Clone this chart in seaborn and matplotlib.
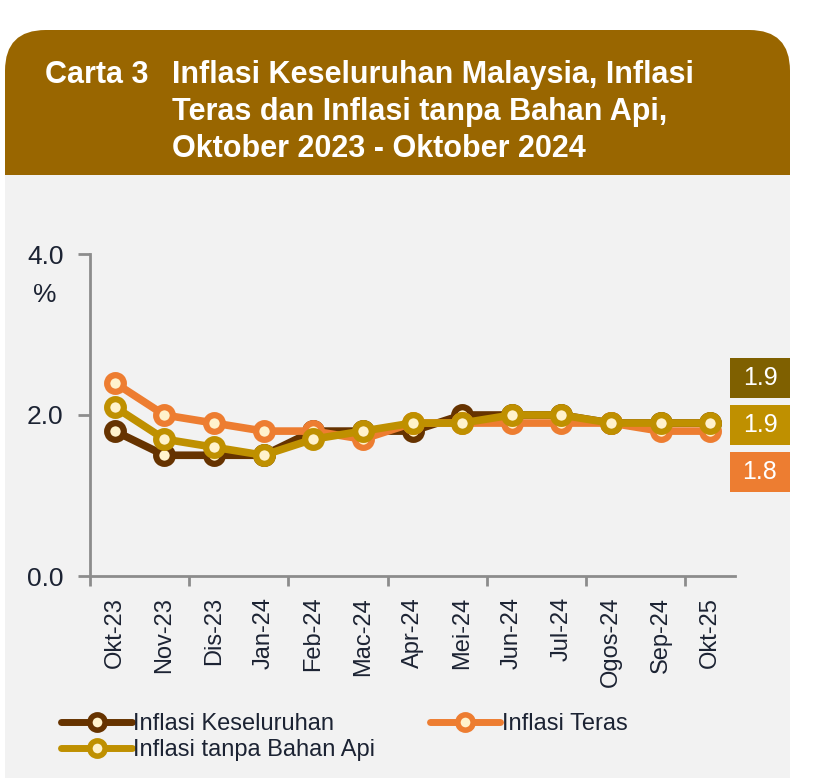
import matplotlib
matplotlib.use('Agg')
import matplotlib.pyplot as plt
import seaborn as sns
import pandas as pd
from matplotlib.patches import FancyBboxPatch, Rectangle
from matplotlib.lines import Line2D

# Data
months = ['Okt-23', 'Nov-23', 'Dis-23', 'Jan-24', 'Feb-24', 'Mac-24', 'Apr-24',
          'Mei-24', 'Jun-24', 'Jul-24', 'Ogos-24', 'Sep-24', 'Okt-25']
keseluruhan = [1.8, 1.5, 1.5, 1.5, 1.8, 1.8, 1.8, 2.0, 2.0, 2.0, 1.9, 1.9, 1.9]
teras = [2.4, 2.0, 1.9, 1.8, 1.8, 1.7, 1.9, 1.9, 1.9, 1.9, 1.9, 1.8, 1.8]
tanpa_bahan_api = [2.1, 1.7, 1.6, 1.5, 1.7, 1.8, 1.9, 1.9, 2.0, 2.0, 1.9, 1.9, 1.9]
series_names = ['Inflasi Keseluruhan', 'Inflasi Teras', 'Inflasi tanpa Bahan Api']
latest_labels = ['1.9', '1.9', '1.8']

colors = {'Inflasi Keseluruhan': '#663300',
          'Inflasi Teras': '#ed7d31',
          'Inflasi tanpa Bahan Api': '#bf9000'}
box_colors = ['#7f6000', '#bf9000', '#ed7d31']
text_col = '#1c2333'

df = pd.DataFrame({'Bulan': months * 3,
                   'x': list(range(len(months))) * 3,
                   'Nilai': keseluruhan + teras + tanpa_bahan_api,
                   'Siri': [series_names[0]] * 13 + [series_names[1]] * 13 + [series_names[2]] * 13})

sns.set_style('white')
plt.rcParams['font.family'] = ['Liberation Sans', 'DejaVu Sans']

W, H = 814, 778
fig = plt.figure(figsize=(W / 100, H / 100), dpi=100)
fig.patch.set_facecolor('white')

# card background
body = Rectangle((5 / W, 0), 785 / W, (H - 175) / H, transform=fig.transFigure,
                 facecolor='#f2f2f2', edgecolor='none', zorder=0)
fig.patches.append(body)
header = FancyBboxPatch((5 / W, (H - 175) / H), 785 / W, 145 / H,
                        boxstyle='round,pad=0,rounding_size=0.05',
                        mutation_aspect=W / H, transform=fig.transFigure,
                        facecolor='#996600', edgecolor='none', zorder=0)
fig.patches.append(header)
# square off the bottom of the header
fig.patches.append(Rectangle((5 / W, (H - 175) / H), 785 / W, 60 / H, transform=fig.transFigure,
                             facecolor='#996600', edgecolor='none', zorder=0))

title_font = dict(family=['Liberation Sans Narrow', 'Liberation Sans'], fontweight='bold',
                  color='white', fontsize=22)
fig.text(45 / W, 1 - 75 / H, 'Carta 3', va='center', ha='left', **title_font)
for i, line in enumerate(['Inflasi Keseluruhan Malaysia, Inflasi',
                          'Teras dan Inflasi tanpa Bahan Api,',
                          'Oktober 2023 - Oktober 2024']):
    fig.text(172 / W, 1 - (75 + 37 * i) / H, line, va='center', ha='left', **title_font)

ax = fig.add_axes([90 / W, 202 / H, 645 / W, 322 / H])
ax.set_facecolor('none')
ax.set_zorder(3)

sns.lineplot(data=df, x='x', y='Nilai', hue='Siri', palette=colors, ax=ax,
             marker='o', markersize=12, markerfacecolor='#fff2cc', markeredgewidth=4.5,
             linewidth=5.5, legend=False, hue_order=series_names)
for line, name in zip(ax.get_lines(), series_names):
    line.set_markeredgecolor(colors[name])
    line.set_clip_on(False)

ax.set_xlim(-0.5, 12.5)
ax.set_ylim(0, 4)
ax.set_yticks([0, 2, 4])
ax.set_yticklabels(['0.0', '2.0', '4.0'], fontsize=19, color=text_col)
ax.set_xticks(range(len(months)))
ax.set_xticklabels(months, rotation=90, fontsize=17, color=text_col)
ax.set_xticks([i - 0.5 for i in range(0, 13, 2)], minor=True)
ax.tick_params(axis='x', which='major', bottom=True, length=0, pad=15)
ax.tick_params(axis='x', which='minor', bottom=True, length=7, width=2, color='#8c8c8c', direction='out')
ax.tick_params(axis='y', left=True, length=9, width=2, color='#8c8c8c', direction='out', pad=10)
ax.set_xlabel('')
ax.set_ylabel('')
for s in ['top', 'right']:
    ax.spines[s].set_visible(False)
for s in ['left', 'bottom']:
    ax.spines[s].set_color('#8c8c8c')
    ax.spines[s].set_linewidth(2)

fig.text(45 / W, 1 - 295 / H, '%', ha='center', va='center', fontsize=19, color=text_col)

# latest value boxes
for i, (lab, bc) in enumerate(zip(latest_labels, box_colors)):
    y0 = 358 + 47 * i
    fig.patches.append(Rectangle((730 / W, 1 - (y0 + 40) / H), 60 / W, 40 / H,
                                 transform=fig.transFigure, facecolor=bc, edgecolor='none'))
    fig.text(760 / W, 1 - (y0 + 20) / H, lab, ha='center', va='center', fontsize=18, color='white')

# legend (column-wise fill: Keseluruhan, tanpa Bahan Api | Teras)
handles = {n: Line2D([0], [0], color=colors[n], linewidth=5, marker='o', markersize=11,
                     markerfacecolor='#fff2cc', markeredgecolor=colors[n], markeredgewidth=4)
           for n in series_names}
order = [series_names[0], series_names[2], series_names[1]]
leg = fig.legend([handles[n] for n in order], order, ncol=2,
                 loc='upper left', bbox_to_anchor=(40 / W, 1 - 692 / H), frameon=False,
                 handlelength=3.0, handletextpad=0.05, columnspacing=2.3, labelspacing=0.15,
                 prop={'family': ['Liberation Sans Narrow', 'Liberation Sans'], 'size': 17})
for t in leg.get_texts():
    t.set_color(text_col)

fig.savefig('out.png', dpi=100)
